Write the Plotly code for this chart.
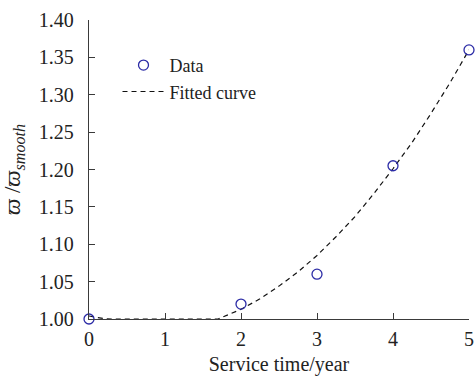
import plotly.graph_objects as go

# Measured ratio vs. service time
service_years = [0, 2, 3, 4, 5]
ratio_data = [1.000, 1.020, 1.060, 1.205, 1.360]

# Fitted curve
fit_years = [0, 0.1, 0.2, 0.3, 0.5, 1.0, 1.5, 1.7, 2.0, 2.25, 2.5, 2.75, 3.0,
             3.25, 3.5, 3.75, 4.0, 4.25, 4.5, 4.75, 5.0]
fit_ratio = [1.004, 1.002, 1.0005, 1.0, 1.0, 1.0, 1.0, 1.0, 1.013, 1.027, 1.044,
             1.063, 1.085, 1.110, 1.137, 1.168, 1.201, 1.236, 1.275, 1.316, 1.360]

x_ticks = [0, 1, 2, 3, 4, 5]
y_ticks = [1.00, 1.05, 1.10, 1.15, 1.20, 1.25, 1.30, 1.35, 1.40]

FONT = "Liberation Serif"
AXIS_COLOR = "#3a3a3a"

fig = go.Figure()
fig.add_trace(go.Scatter(
    x=fit_years, y=fit_ratio, mode="lines", name="Fitted curve",
    line=dict(color="#111111", width=1.2, dash="5px,4px"),
    cliponaxis=False,
))
fig.add_trace(go.Scatter(
    x=service_years, y=ratio_data, mode="markers", name="Data",
    marker=dict(symbol="circle-open", size=10, color="#2b2ba6",
                line=dict(width=1.3, color="#2b2ba6")),
    cliponaxis=False,
))

fig.update_layout(
    width=475, height=376,
    margin=dict(l=89, r=6, t=20, b=57),
    paper_bgcolor="white", plot_bgcolor="white",
    font=dict(family=FONT, size=20, color="#222222"),
    showlegend=True,
    legend=dict(
        x=0.075, y=0.91, xanchor="left", yanchor="top",
        bgcolor="rgba(0,0,0,0)", font=dict(family=FONT, size=18),
        traceorder="reversed", itemwidth=42, tracegroupgap=0,
    ),
    xaxis=dict(
        range=[0, 5], tickvals=x_ticks, ticktext=[str(v) for v in x_ticks],
        showline=True, linecolor=AXIS_COLOR, linewidth=1.3,
        ticks="inside", ticklen=6, tickwidth=1.3, tickcolor=AXIS_COLOR,
        ticklabelstandoff=2, automargin=False,
        showgrid=False, zeroline=False,
        title=dict(text="Service time/year", standoff=11,
                   font=dict(family=FONT, size=20)),
    ),
    yaxis=dict(
        range=[1.0, 1.4], tickvals=y_ticks, tickformat=".2f",
        showline=True, linecolor=AXIS_COLOR, linewidth=1.3,
        ticks="inside", ticklen=6, tickwidth=1.3, tickcolor=AXIS_COLOR,
        ticklabelstandoff=10, automargin=False,
        showgrid=False, zeroline=False,
        title=dict(text="<i>ϖ</i> /<i>ϖ</i><sub><i>smooth</i></sub>", standoff=12,
                   font=dict(family=FONT, size=23)),
    ),
)

fig.write_html("out.html")
